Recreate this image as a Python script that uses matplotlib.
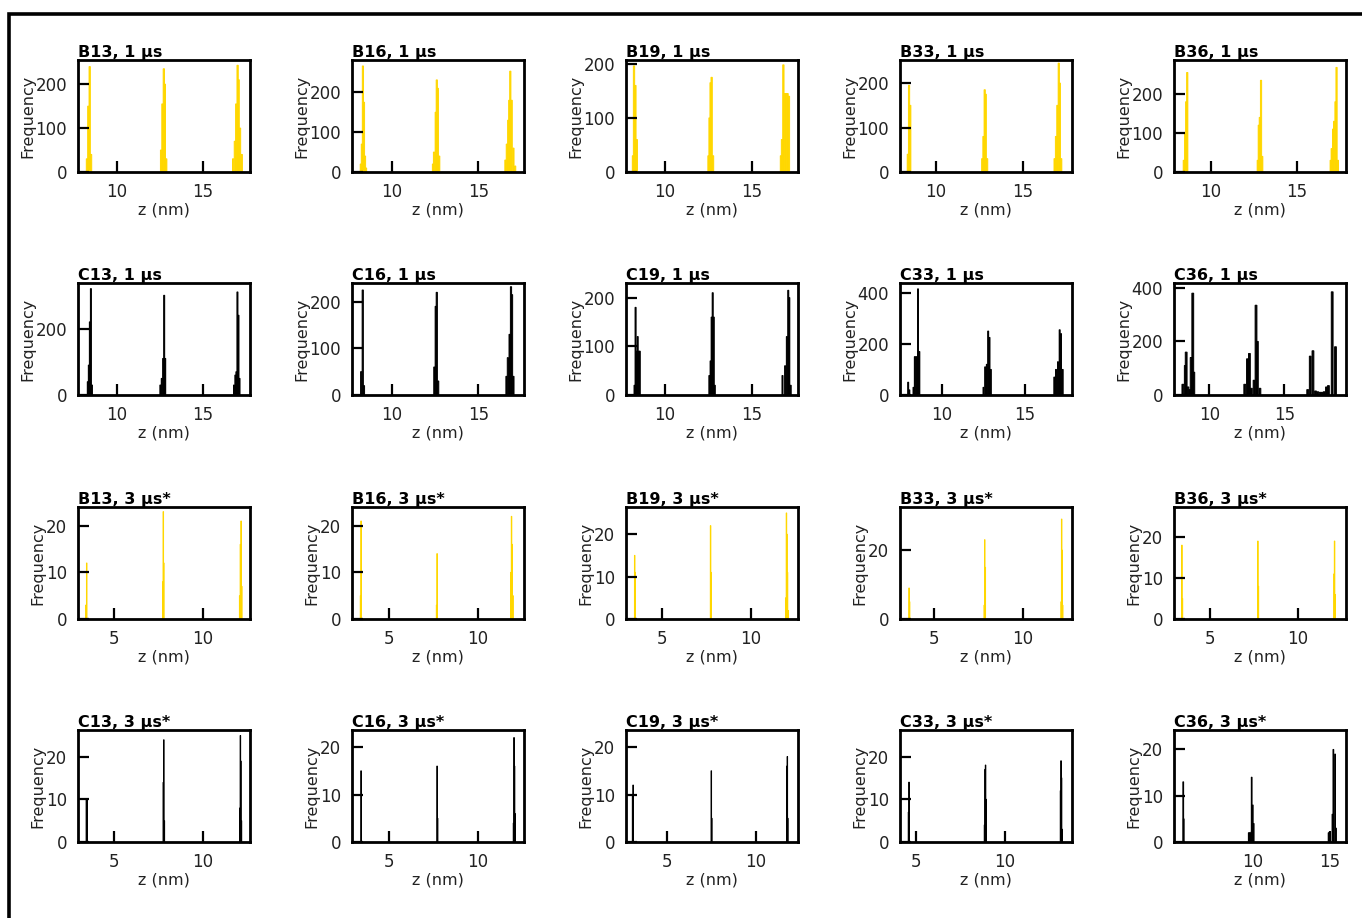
import matplotlib
matplotlib.use("Agg")
import matplotlib.pyplot as plt
from matplotlib.patches import Rectangle

# ---------------- data (bin centres z in nm, counts) ----------------
# Row 1: B, 1 us
B13_1_z = [8.25, 8.33, 8.41, 8.49, 12.56, 12.64, 12.72, 12.78, 12.86, 16.75, 16.85, 16.93, 17.01, 17.07, 17.15, 17.25]
B13_1_n = [30, 150, 240, 40, 50, 155, 235, 200, 30, 30, 70, 155, 243, 210, 100, 40]
B16_1_z = [8.22, 8.28, 8.34, 8.40, 8.46, 8.52, 12.38, 12.44, 12.54, 12.60, 12.66, 12.74, 16.56, 16.64, 16.72, 16.78, 16.84, 16.92, 17.02, 17.12]
B16_1_n = [20, 70, 266, 175, 40, 10, 20, 50, 150, 231, 210, 40, 30, 70, 130, 180, 253, 180, 60, 15]
B19_1_z = [8.16, 8.22, 8.30, 8.38, 12.50, 12.56, 12.62, 12.68, 12.76, 16.66, 16.72, 16.80, 16.88, 16.96, 17.04, 17.12]
B19_1_n = [30, 196, 160, 60, 30, 100, 165, 175, 30, 30, 60, 198, 145, 145, 145, 140]
B33_1_z = [8.38, 8.45, 8.52, 12.66, 12.73, 12.80, 12.86, 12.94, 16.82, 16.90, 16.98, 17.06, 17.12, 17.20]
B33_1_n = [40, 195, 150, 30, 80, 185, 175, 30, 30, 80, 150, 245, 200, 30]
B36_1_z = [8.42, 8.50, 8.56, 8.62, 12.72, 12.78, 12.84, 12.91, 12.98, 16.96, 17.02, 17.10, 17.16, 17.24, 17.30, 17.38]
B36_1_n = [30, 100, 180, 255, 30, 120, 140, 235, 40, 30, 60, 110, 130, 180, 268, 30]

# Row 2: C, 1 us
C13_1_z = [8.30, 8.36, 8.42, 8.48, 8.54, 12.52, 12.60, 12.68, 12.74, 12.80, 16.80, 16.88, 16.94, 17.00, 17.06, 17.12]
C13_1_n = [40, 90, 220, 320, 30, 30, 50, 110, 300, 110, 30, 60, 70, 310, 240, 50]
C16_1_z = [8.24, 8.33, 8.40, 12.46, 12.54, 12.60, 12.68, 16.62, 16.70, 16.80, 16.88, 16.94, 17.02]
C16_1_n = [50, 225, 20, 60, 190, 220, 30, 40, 80, 130, 232, 215, 40]
C19_1_z = [8.25, 8.31, 8.37, 8.43, 8.49, 8.55, 12.55, 12.62, 12.68, 12.74, 12.80, 12.86, 16.75, 16.90, 17.00, 17.08, 17.14, 17.22]
C19_1_n = [20, 180, 90, 120, 90, 90, 40, 70, 160, 210, 160, 20, 40, 60, 120, 215, 200, 20]
C33_1_z = [7.98, 8.05, 8.30, 8.38, 8.46, 8.54, 8.57, 8.65, 12.50, 12.60, 12.70, 12.78, 12.86, 12.94, 16.75, 16.85, 16.97, 17.07, 17.15, 17.25]
C33_1_n = [50, 20, 30, 150, 150, 150, 415, 170, 30, 110, 120, 250, 225, 100, 70, 100, 130, 255, 240, 100]
C36_1_z = [8.24, 8.40, 8.46, 8.58, 8.70, 8.79, 8.90, 8.97, 12.36, 12.54, 12.67, 12.80, 12.98, 13.11, 13.20, 13.37,
           16.55, 16.72, 16.90, 17.07, 17.22, 17.38, 17.52, 17.65, 17.80, 17.93, 18.18, 18.40]
C36_1_n = [40, 110, 160, 30, 20, 140, 380, 85, 40, 135, 155, 25, 55, 335, 200, 25,
           20, 145, 165, 15, 12, 10, 10, 12, 30, 35, 385, 180]

# Row 3: B, 3 us*
B13_3_z = [3.43, 3.47, 7.74, 7.77, 7.80, 12.06, 12.10, 12.14, 12.18]
B13_3_n = [3, 12, 8, 23, 12, 5, 16, 21, 7]
B16_3_z = [3.40, 3.43, 7.67, 7.70, 11.84, 11.88, 11.92, 11.96]
B16_3_n = [5, 21, 3, 14, 10, 22, 16, 5]
B19_3_z = [3.48, 3.51, 7.75, 7.78, 11.98, 12.02, 12.05, 12.08, 12.12]
B19_3_n = [15, 11, 22, 11, 5, 25, 20, 11, 2]
B33_3_z = [3.60, 3.63, 7.82, 7.85, 7.88, 12.14, 12.17, 12.20, 12.23]
B33_3_n = [9, 5, 4, 23, 15, 5, 29, 20, 4]
B36_3_z = [3.40, 3.43, 7.72, 7.75, 12.05, 12.08, 12.11]
B36_3_n = [18, 5, 19, 8, 11, 19, 6]

# Row 4: C, 3 us*
C13_3_z = [3.45, 3.49, 7.77, 7.80, 7.83, 12.07, 12.10, 12.13, 12.16]
C13_3_n = [10, 10, 14, 24, 5, 8, 25, 19, 5]
C16_3_z = [3.43, 7.70, 7.73, 11.99, 12.02, 12.05, 12.08]
C16_3_n = [15, 16, 5, 4, 22, 16, 6]
C19_3_z = [3.07, 3.10, 7.49, 7.52, 11.73, 11.76, 11.79]
C19_3_n = [10, 12, 15, 5, 16, 18, 5]
C33_3_z = [4.55, 4.58, 8.85, 8.88, 8.91, 8.94, 13.15, 13.18, 13.21, 13.24]
C33_3_n = [7, 14, 4, 17, 18, 10, 12, 19, 15, 3]
C36_3_z = [5.51, 5.54, 9.76, 9.82, 9.87, 9.95, 10.02, 10.08, 14.94, 15.00, 15.19, 15.25, 15.36, 15.42]
C36_3_n = [13, 5, 2, 2, 2, 14, 8, 4, 2, 2, 6, 20, 19, 3]

# panel titles (row-major)
titles = ["B13, 1 µs", "B16, 1 µs", "B19, 1 µs", "B33, 1 µs", "B36, 1 µs",
          "C13, 1 µs", "C16, 1 µs", "C19, 1 µs", "C33, 1 µs", "C36, 1 µs",
          "B13, 3 µs*", "B16, 3 µs*", "B19, 3 µs*", "B33, 3 µs*", "B36, 3 µs*",
          "C13, 3 µs*", "C16, 3 µs*", "C19, 3 µs*", "C33, 3 µs*", "C36, 3 µs*"]

panel_z = [B13_1_z, B16_1_z, B19_1_z, B33_1_z, B36_1_z,
           C13_1_z, C16_1_z, C19_1_z, C33_1_z, C36_1_z,
           B13_3_z, B16_3_z, B19_3_z, B33_3_z, B36_3_z,
           C13_3_z, C16_3_z, C19_3_z, C33_3_z, C36_3_z]
panel_n = [B13_1_n, B16_1_n, B19_1_n, B33_1_n, B36_1_n,
           C13_1_n, C16_1_n, C19_1_n, C33_1_n, C36_1_n,
           B13_3_n, B16_3_n, B19_3_n, B33_3_n, B36_3_n,
           C13_3_n, C16_3_n, C19_3_n, C33_3_n, C36_3_n]

bin_widths = [0.075, 0.07, 0.075, 0.07, 0.07,
              0.06, 0.07, 0.06, 0.06, 0.12,
              0.03, 0.03, 0.03, 0.03, 0.03,
              0.03, 0.03, 0.03, 0.03, 0.05]

# axis ranges
xlims = [(7.73, 17.73), (7.71, 17.63), (7.76, 17.64), (7.93, 17.82), (7.85, 17.85),
         (7.73, 17.73), (7.71, 17.63), (7.76, 17.64), (7.49, 17.81), (7.65, 19.10),
         (2.98, 12.64), (2.92, 12.58), (2.99, 12.67), (3.09, 12.75), (2.95, 12.73),
         (2.98, 12.64), (2.92, 12.58), (2.70, 12.36), (4.07, 13.80), (4.91, 16.07)]
ymaxs = [255, 281, 207, 252, 287,
         337, 240, 230, 438, 418,
         24.0, 24.0, 26.4, 32.5, 27.3,
         26.3, 23.6, 23.6, 26.2, 24.2]
xticks = [[10, 15]] * 10 + [[5, 10]] * 9 + [[10, 15]]
yticks = [[0, 100, 200]] * 5 + [[0, 200], [0, 100, 200], [0, 100, 200], [0, 200, 400], [0, 200, 400]] + \
         [[0, 10, 20], [0, 10, 20], [0, 10, 20], [0, 20], [0, 10, 20]] + [[0, 10, 20]] * 5

# ---------------- drawing ----------------
W, H = 1362, 918
fig = plt.figure(figsize=(W / 100, H / 100), dpi=100)

col_left = [78, 352, 626, 900, 1174]
row_top = [60, 283, 507, 730]
ax_w, ax_h = 172, 112
row_colors = ["#FFD700", "black", "#FFD700", "black"]

for i in range(20):
    r, c = divmod(i, 5)
    ax = fig.add_axes([col_left[c] / W, 1 - (row_top[r] + ax_h) / H, ax_w / W, ax_h / H])
    ax.bar(panel_z[i], panel_n[i], width=bin_widths[i], color=row_colors[r],
           edgecolor=row_colors[r], linewidth=0.7, snap=False)
    ax.set_xlim(*xlims[i])
    ax.set_ylim(0, ymaxs[i])
    ax.set_xticks(xticks[i])
    ax.set_yticks(yticks[i])
    ax.tick_params(direction="in", length=8, width=1.6, labelsize=12, pad=8,
                   top=False, right=False, colors="black", labelcolor="#222222")
    for s in ax.spines.values():
        s.set_linewidth(2.0)
        s.set_zorder(3)
    ax.set_xlabel("z (nm)", fontsize=11.5, labelpad=1, color="#222222")
    ax.set_ylabel("Frequency", fontsize=11.5, labelpad=0, color="#222222")
    ax.set_title(titles[i], loc="left", fontsize=11.5, fontweight="bold", pad=1.5)

# figure frame (top and left edges visible; the rest runs off the canvas)
fig.patches.append(Rectangle((9 / W, -0.1), 1.2, 1.1 - 13.8 / H, transform=fig.transFigure,
                             fill=False, edgecolor="black", linewidth=2.6))

fig.savefig("out.png", dpi=100)
